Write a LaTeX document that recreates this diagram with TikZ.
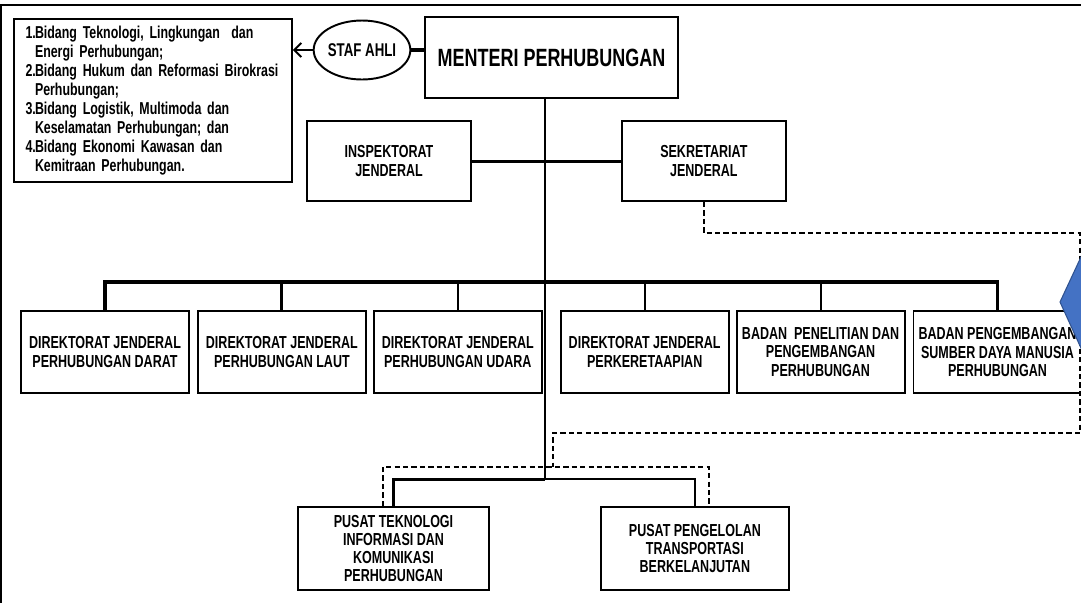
\documentclass[tikz,border=0pt]{standalone}
\usepackage{fontspec}
\setmainfont{Liberation Sans}[FakeStretch=0.72]
\usepackage{xcolor}
\usetikzlibrary{shapes,arrows,arrows.meta,positioning,calc}
\definecolor{kiteblue}{HTML}{4472C4}
\definecolor{kiteedge}{HTML}{2F528F}

\begin{document}
\begin{tikzpicture}[
    x=0.02cm, y=-0.02cm,
    unit/.style={rectangle, draw=black, line width=1.1pt, fill=white, minimum width=3.36cm, minimum height=1.64cm, align=center, inner sep=1pt, font=\fontsize{9.9}{10.4}\selectfont\bfseries},
    topbox/.style={rectangle, draw=black, line width=1.1pt, fill=white, minimum width=5.06cm, minimum height=1.62cm, align=center, font=\fontsize{14.2}{16}\selectfont\bfseries},
    listbox/.style={rectangle, draw=black, line width=1.1pt, fill=white, minimum width=5.56cm, minimum height=3.26cm, text width=5.1cm, align=left, inner xsep=0.22cm, font=\fontsize{9.8}{10.8}\selectfont\bfseries},
    stafnode/.style={ellipse, draw=black, line width=1.1pt, fill=white, minimum width=1.88cm, minimum height=1.18cm, inner sep=0pt, font=\fontsize{10.5}{12}\selectfont\bfseries},
    frame/.style={line width=0.9pt},
    link/.style={line width=1.2pt},
    buslink/.style={line width=1.8pt},
    dashlink/.style={line width=1pt, dash pattern=on 3pt off 1.8pt},
    arrow/.style={-{Straight Barb[length=4pt, width=8pt, line width=1.1pt]}, line width=1.1pt},
]
\useasboundingbox (0,0) rectangle (1081,603);

% Frame
\draw[frame] (0,5) -- (1081,5);
\draw[frame] (1,5) -- (1,603);

% Top: minister, staff and advisers
\node[topbox] (menteri) at (551.5,57.5) {MENTERI PERHUBUNGAN};
\node[stafnode] (staf) at (362,50) {STAF AHLI};
\node[listbox] (bidang) at (153,100.5) {%
    \makebox[5.4pt][l]{1.}Bidang Teknologi, Lingkungan\ \ dan\\
    \hspace*{5.4pt}Energi Perhubungan;\\
    \makebox[5.4pt][l]{2.}Bidang Hukum dan Reformasi Birokrasi\\
    \hspace*{5.4pt}Perhubungan;\\
    \makebox[5.4pt][l]{3.}Bidang Logistik, Multimoda dan\\
    \hspace*{5.4pt}Keselamatan Perhubungan; dan\\
    \makebox[5.4pt][l]{4.}Bidang Ekonomi Kawasan dan\\
    \hspace*{5.4pt}Kemitraan Perhubungan.};

% Second row
\node[unit, minimum width=3.28cm, minimum height=1.6cm] (inspektorat) at (389,161) {INSPEKTORAT\\JENDERAL};
\node[unit, minimum width=3.28cm, minimum height=1.6cm, right=2.98cm of inspektorat] (sekretariat) {SEKRETARIAT\\JENDERAL};

% Third row: directorates and agencies
\node[unit] (darat) at (105,352) {DIREKTORAT JENDERAL\\PERHUBUNGAN DARAT};
\node[unit, right=0.14cm of darat] (laut) {DIREKTORAT JENDERAL\\PERHUBUNGAN LAUT};
\node[unit, right=0.12cm of laut] (udara) {DIREKTORAT JENDERAL\\PERHUBUNGAN UDARA};
\node[unit, right=0.34cm of udara] (kereta) {DIREKTORAT JENDERAL\\PERKERETAAPIAN};
\node[unit, right=0.12cm of kereta] (litbang) {BADAN\ \ PENELITIAN DAN\\PENGEMBANGAN\\PERHUBUNGAN};
\node[unit, right=0.14cm of litbang] (sdm) {BADAN PENGEMBANGAN\\SUMBER DAYA MANUSIA\\PERHUBUNGAN};

% Bottom row: centres
\node[unit, minimum width=3.82cm, minimum height=1.66cm] (tekno) at (393.5,548.5) {PUSAT TEKNOLOGI\\INFORMASI DAN\\KOMUNIKASI\\PERHUBUNGAN};
\node[unit, minimum width=3.76cm, minimum height=1.66cm, right=2.2cm of tekno] (kelola) {PUSAT PENGELOLAN\\TRANSPORTASI\\BERKELANJUTAN};

% Junctions
\coordinate (bus) at (545,282);
\coordinate (pusat) at (545,479);
\coordinate (dashtop) at (1080,233);
\coordinate (dashbot) at (1080,433);
\coordinate (dashjoin) at (553,467);

% Lines - minister and staff
\draw[link, line width=2.2pt] (staf.east) -- (staf.east -| menteri.west);
\draw[arrow] (staf.west) -- (staf.west -| bidang.east);
\draw[link] (pusat |- menteri.south) -- (pusat);
\draw[link, line width=1.7pt] (inspektorat) -- (sekretariat);

% Lines - bus to the units
\draw[buslink] (darat.north) -- (darat.north |- bus) -- (sdm.north |- bus) -- (sdm.north);
\draw[buslink] (laut.north) -- (laut.north |- bus);
\draw[link] (udara.north) -- (udara.north |- bus);
\draw[link] (kereta.north) -- (kereta.north |- bus);
\draw[link] (litbang.north) -- (litbang.north |- bus);

% Lines - centres
\draw[link, line width=1.7pt] (tekno.north) |- (pusat);
\draw[link] (pusat) -| (kelola.north);

% Dashed lines from the secretariat
\draw[dashlink] (sekretariat.south) |- (dashtop) -- (dashbot) -| (dashjoin);
\draw[dashlink] ($(tekno.north)+(-10.5,0)$) |- (dashjoin) -| ($(kelola.north)+(14,0)$);

% Blue shape at the edge
\filldraw[fill=kiteblue, draw=kiteedge, line width=0.6pt] (1060,302) -- (1101,214) -- (1101,392) -- cycle;

\end{tikzpicture}
\end{document}
